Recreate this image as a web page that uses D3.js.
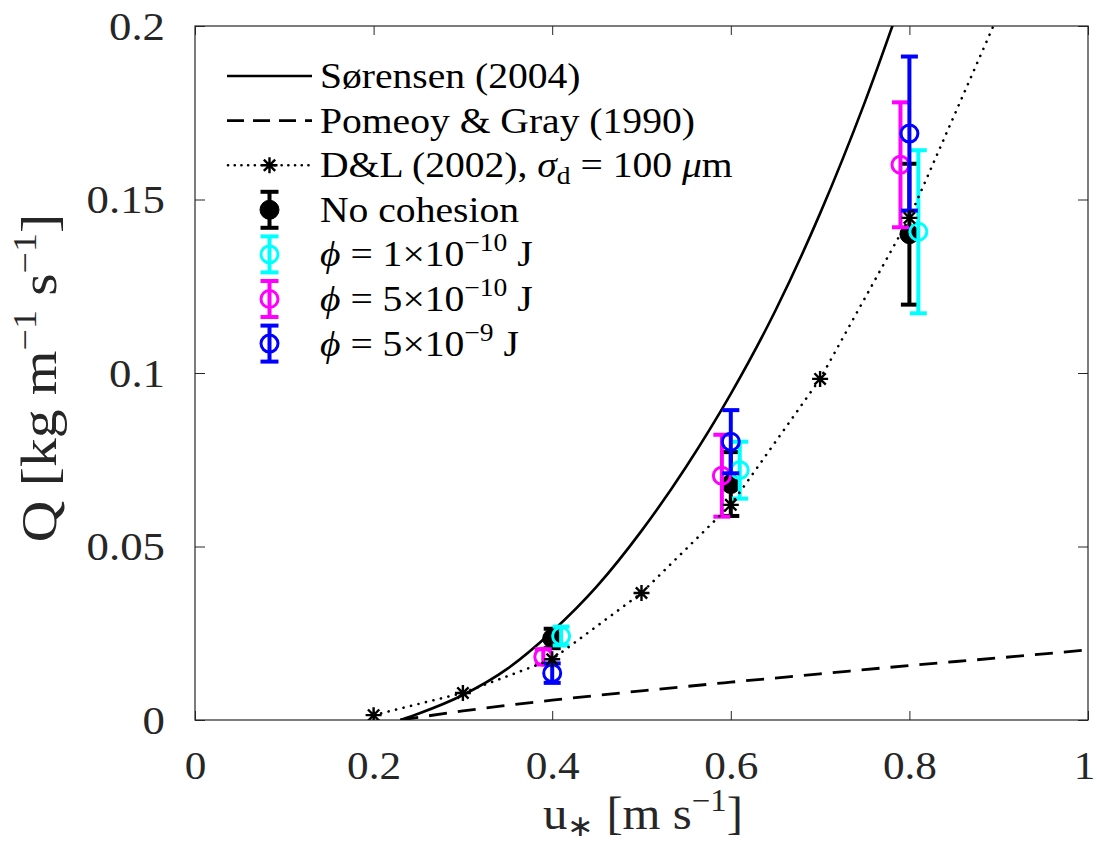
<!DOCTYPE html>
<html>
<head>
<meta charset="utf-8">
<script src="https://cdn.jsdelivr.net/npm/d3@7"></script>
<style>
    body { margin: 0; background: #ffffff; }
    svg text { font-family: 'Liberation Serif', 'Times New Roman', serif; fill: #000; }
</style>
</head>
<body>
<svg id="chart" width="1097" height="847"></svg>
<script>
// Sørensen (2004) model curve
var sorU = [0.23, 0.25, 0.30, 0.35, 0.40, 0.45, 0.50, 0.55, 0.60, 0.65, 0.70, 0.75, 0.80];
var sorQ = [0, 0.0018, 0.0072, 0.0148, 0.0255, 0.0385, 0.0545, 0.0730, 0.0940, 0.1180, 0.1460, 0.1780, 0.2140];

// Pomeroy & Gray (1990)
var pgU = [0.23, 0.30, 0.40, 0.50, 0.60, 0.70, 0.80, 0.90, 1.00];
var pgQ = [0, 0.0026, 0.0057, 0.0084, 0.0109, 0.0133, 0.0157, 0.0179, 0.0202];

// D&L (2002), sigma_d = 100 um
var dlU = [0.2, 0.3, 0.4, 0.5, 0.6, 0.7, 0.8, 0.9];
var dlQ = [0.0014, 0.0078, 0.0175, 0.0366, 0.0620, 0.0983, 0.1447, 0.2035];

// simulations (u*, Q, error half-width)
var noCohU = [0.40, 0.60, 0.80];
var noCohQ = [0.0235, 0.0680, 0.1400];
var noCohE = [0.0028, 0.0092, 0.0203];

var phi1U = [0.41, 0.61, 0.81];
var phi1Q = [0.0242, 0.0720, 0.1407];
var phi1E = [0.0027, 0.0082, 0.0235];

var phi2U = [0.39, 0.59, 0.79];
var phi2Q = [0.0182, 0.0704, 0.1600];
var phi2E = [0.0022, 0.0118, 0.0180];

var phi3U = [0.40, 0.60, 0.80];
var phi3Q = [0.0135, 0.0802, 0.1690];
var phi3E = [0.0028, 0.0091, 0.0222];

var xTicks = [0, 0.2, 0.4, 0.6, 0.8, 1];
var yTicks = [0, 0.05, 0.1, 0.15, 0.2];

var svg = d3.select('#chart');
var axisColor = '#262626';

var x = d3.scaleLinear().domain([0, 1]).range([195, 1088]);
var y = d3.scaleLinear().domain([0, 0.2]).range([720, 26]);

function zip(us, qs) {
    return us.map(function (u, i) { return [u, qs[i]]; });
}

svg.append('defs').append('clipPath')
    .attr('id', 'plot-clip')
    .append('rect')
    .attr('x', x(0)).attr('y', y(0.2))
    .attr('width', x(1) - x(0)).attr('height', y(0) - y(0.2));

// axes (MATLAB style box, ticks inside)
var xAxis = svg.append('g')
    .attr('transform', 'translate(0,' + y(0) + ')')
    .call(d3.axisBottom(x).tickValues(xTicks).tickSizeInner(-9).tickSizeOuter(0)
        .tickFormat(d3.format('~g')));
xAxis.selectAll('.tick text')
    .attr('y', null).attr('dy', null)
    .attr('transform', function (d) {
        // last label pulled in a little so it stays on the page
        return 'translate(' + (d === 1 ? -4 : 0) + ',59) scale(1.08,1)';
    })
    .style('font-size', '40px')
    .style('fill', axisColor);

svg.append('g')
    .attr('transform', 'translate(0,' + y(0.2) + ')')
    .call(d3.axisTop(x).tickValues(xTicks).tickSizeInner(-9).tickSizeOuter(0).tickFormat(''));

var yAxis = svg.append('g')
    .attr('transform', 'translate(' + x(0) + ',0)')
    .call(d3.axisLeft(y).tickValues(yTicks).tickSizeInner(-10).tickSizeOuter(0)
        .tickFormat(d3.format('~g')));
yAxis.selectAll('.tick text')
    .attr('x', null).attr('dy', null)
    .attr('transform', 'translate(-30,13) scale(1.12,1)')
    .style('font-size', '40px')
    .style('fill', axisColor);

svg.append('g')
    .attr('transform', 'translate(' + x(1) + ',0)')
    .call(d3.axisRight(y).tickValues(yTicks).tickSizeInner(-10).tickSizeOuter(0).tickFormat(''));

svg.selectAll('.domain').remove();
svg.selectAll('.tick line').attr('stroke', axisColor);

svg.append('rect')
    .attr('x', x(0)).attr('y', y(0.2))
    .attr('width', x(1) - x(0)).attr('height', y(0) - y(0.2))
    .attr('fill', 'none')
    .attr('stroke', axisColor)
    .attr('stroke-width', 1.2);

// axis titles
var xTitle = svg.append('text')
    .attr('transform', 'translate(643,829) scale(1.06,1)')
    .attr('text-anchor', 'middle')
    .style('font-size', '46px')
    .style('fill', axisColor);
xTitle.append('tspan').text('u');
xTitle.append('tspan').attr('dy', 7).style('font-size', '30px').text('∗');
xTitle.append('tspan').attr('dy', -7).text(' [m s');
xTitle.append('tspan').attr('dy', -18).style('font-size', '31px').text('−1');
xTitle.append('tspan').attr('dy', 18).text(']');

var yTitle = svg.append('text')
    .attr('transform', 'translate(56,378) rotate(-90) scale(1.15,1)')
    .attr('text-anchor', 'middle')
    .style('font-size', '50px')
    .style('fill', axisColor);
yTitle.append('tspan').text('Q [kg m');
yTitle.append('tspan').attr('dy', -20).style('font-size', '33px').text('−1');
yTitle.append('tspan').attr('dy', 20).text(' s');
yTitle.append('tspan').attr('dy', -20).style('font-size', '33px').text('−1');
yTitle.append('tspan').attr('dy', 20).text(']');

var plot = svg.append('g').attr('clip-path', 'url(#plot-clip)');

var line = d3.line()
    .x(function (d) { return x(d[0]); })
    .y(function (d) { return y(d[1]); });
var smooth = d3.line()
    .x(function (d) { return x(d[0]); })
    .y(function (d) { return y(d[1]); })
    .curve(d3.curveMonotoneX);

plot.append('path')
    .datum(zip(sorU, sorQ))
    .attr('d', smooth)
    .attr('fill', 'none')
    .attr('stroke', '#000')
    .attr('stroke-width', 2.6);

plot.append('path')
    .datum(zip(pgU, pgQ))
    .attr('d', smooth)
    .attr('fill', 'none')
    .attr('stroke', '#000')
    .attr('stroke-width', 2.8)
    .attr('stroke-dasharray', '18 11');

// error bars
function errorBars(g, us, qs, es, color, filled) {
    us.forEach(function (u, i) {
        var cx = x(u);
        var lo = y(qs[i] - es[i]);
        var hi = y(qs[i] + es[i]);
        var grp = g.append('g');
        grp.append('line')
            .attr('x1', cx).attr('x2', cx).attr('y1', lo).attr('y2', hi)
            .attr('stroke', color).attr('stroke-width', 4);
        [lo, hi].forEach(function (yy) {
            grp.append('line')
                .attr('x1', cx - 8.5).attr('x2', cx + 8.5).attr('y1', yy).attr('y2', yy)
                .attr('stroke', color).attr('stroke-width', 4);
        });
        grp.append('circle')
            .attr('cx', cx).attr('cy', y(qs[i]))
            .attr('r', filled ? 9.5 : 8.5)
            .attr('fill', filled ? color : 'none')
            .attr('stroke', color)
            .attr('stroke-width', filled ? 1 : 3);
    });
}

errorBars(plot, noCohU, noCohQ, noCohE, '#000000', true);
errorBars(plot, phi1U, phi1Q, phi1E, '#00ffff', false);
errorBars(plot, phi2U, phi2Q, phi2E, '#ff00ff', false);
errorBars(plot, phi3U, phi3Q, phi3E, '#0000ff', false);

// D&L line with asterisk markers
function asterisk(cx, cy, r) {
    var p = '';
    for (var k = 0; k < 4; k++) {
        var a = k * Math.PI / 4;
        var dx = r * Math.cos(a), dy = r * Math.sin(a);
        p += 'M' + (cx - dx) + ',' + (cy - dy) + 'L' + (cx + dx) + ',' + (cy + dy);
    }
    return p;
}

plot.append('path')
    .datum(zip(dlU, dlQ))
    .attr('d', line)
    .attr('fill', 'none')
    .attr('stroke', '#000')
    .attr('stroke-width', 2.6)
    .attr('stroke-linecap', 'round')
    .attr('stroke-dasharray', '0.1 7.6');

plot.selectAll('.dl-star')
    .data(zip(dlU, dlQ))
    .enter()
    .append('path')
    .attr('class', 'dl-star')
    .attr('d', function (d) { return asterisk(x(d[0]), y(d[1]), 8); })
    .attr('stroke', '#000')
    .attr('stroke-width', 2.4);

// legend
var legX1 = 227, legX2 = 312, legMid = 269.5, legText = 320;
var legY0 = 76, legStep = 44.6;

function row(i) { return legY0 + i * legStep; }

function legendText(i) {
    return svg.append('text')
        .attr('transform', 'translate(' + legText + ',' + (row(i) + 12) + ') scale(1.1,1)')
        .style('font-size', '36px');
}

svg.append('line')
    .attr('x1', legX1).attr('x2', legX2).attr('y1', row(0)).attr('y2', row(0))
    .attr('stroke', '#000').attr('stroke-width', 2.6);
legendText(0).text('Sørensen (2004)');

svg.append('line')
    .attr('x1', legX1).attr('x2', legX2).attr('y1', row(1)).attr('y2', row(1))
    .attr('stroke', '#000').attr('stroke-width', 2.8)
    .attr('stroke-dasharray', '17 9');
legendText(1).text('Pomeoy & Gray (1990)');

svg.append('line')
    .attr('x1', legX1 + 1).attr('x2', legX2).attr('y1', row(2)).attr('y2', row(2))
    .attr('stroke', '#000').attr('stroke-width', 2.6)
    .attr('stroke-linecap', 'round')
    .attr('stroke-dasharray', '0.1 6.6');
svg.append('path')
    .attr('d', asterisk(legMid, row(2), 8))
    .attr('stroke', '#000').attr('stroke-width', 2.4);
var t2 = legendText(2);
t2.append('tspan').text('D&L (2002), ');
t2.append('tspan').style('font-style', 'italic').text('σ');
t2.append('tspan').attr('dy', 7).style('font-size', '25px').text('d');
t2.append('tspan').attr('dy', -7).text(' = 100 ');
t2.append('tspan').style('font-style', 'italic').text('μ');
t2.append('tspan').text('m');

function legendErrorBar(i, color, filled) {
    var cy = row(i);
    var g = svg.append('g');
    g.append('line')
        .attr('x1', legMid).attr('x2', legMid).attr('y1', cy - 18).attr('y2', cy + 18)
        .attr('stroke', color).attr('stroke-width', 4);
    [cy - 18, cy + 18].forEach(function (yy) {
        g.append('line')
            .attr('x1', legMid - 9).attr('x2', legMid + 9).attr('y1', yy).attr('y2', yy)
            .attr('stroke', color).attr('stroke-width', 4);
    });
    g.append('circle')
        .attr('cx', legMid).attr('cy', cy)
        .attr('r', filled ? 9.5 : 8.5)
        .attr('fill', filled ? color : 'none')
        .attr('stroke', color)
        .attr('stroke-width', filled ? 1 : 3);
}

legendErrorBar(3, '#000000', true);
legendText(3).text('No cohesion');

var phiLabels = [['1', '−10'], ['5', '−10'], ['5', '−9']];
var phiColors = ['#00ffff', '#ff00ff', '#0000ff'];
phiLabels.forEach(function (lab, k) {
    legendErrorBar(4 + k, phiColors[k], false);
    var t = legendText(4 + k);
    t.append('tspan').style('font-style', 'italic').text('ϕ');
    t.append('tspan').text(' = ' + lab[0] + '×10');
    t.append('tspan').attr('dy', -15).style('font-size', '25px').text(lab[1]);
    t.append('tspan').attr('dy', 15).text(' J');
});
</script>
</body>
</html>
